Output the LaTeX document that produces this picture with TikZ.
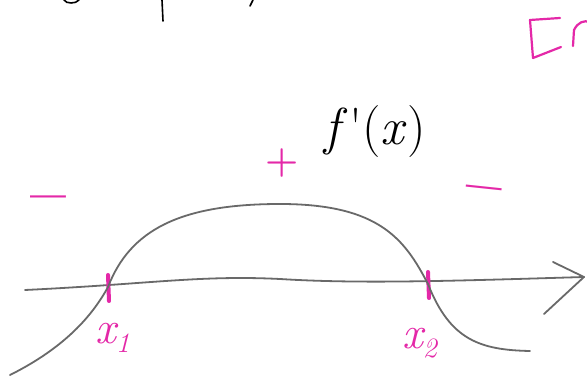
\documentclass[tikz,border=0pt]{standalone}
\usepackage{tikz}
\usetikzlibrary{positioning,calc}

\definecolor{marker}{RGB}{228,40,168}
\definecolor{pencil}{RGB}{105,105,105}
\newcommand{\rootsub}[1]{\raisebox{-9pt}{\fontsize{28}{28}\selectfont #1}}

\begin{document}
\begin{tikzpicture}[
  x=1pt, y=-1pt,
  stroke/.style={draw=pencil, line width=1.8pt, line cap=round, line join=round},
  tickmark/.style={draw=marker, line width=4pt, line cap=round},
  sign/.style={text=marker, inner sep=0pt, font=\fontsize{64}{64}\selectfont\bfseries},
  rootlabel/.style={text=marker, inner sep=0pt, font=\fontsize{46}{46}\selectfont\itshape},
  scribble/.style={draw=black, line width=1.6pt, line cap=round}
]
  \useasboundingbox (0,0) rectangle (587,379);
  \fill[white] (0,0) rectangle (587,379);

  % axis
  \coordinate (axisstart) at (25,290);
  \coordinate (axisend) at (584,277);
  \coordinate (tipup) at (553,262);
  \coordinate (tipdown) at (544,314);
  \draw[stroke] (axisstart) .. controls (150,284) and (200,275) .. (280,279)
    .. controls (360,284) and (450,281) .. (axisend);
  \draw[stroke] (tipup) -- (axisend) -- (tipdown);

  % roots
  \coordinate (xone) at (108,287);
  \coordinate (xtwo) at (428,284);
  \draw[tickmark] ($(xone)+(0,-12)$) -- ($(xone)+(1,14)$);
  \draw[tickmark] ($(xtwo)+(0,-12)$) -- ($(xtwo)+(1,14)$);

  % f'(x)
  \coordinate (curvestart) at (10,375);
  \coordinate (peak) at (280,204);
  \coordinate (curveend) at (530,351);
  \draw[stroke] (curvestart) .. controls (60,350) and (90,320) .. (xone)
    .. controls (130,230) and (180,204) .. (peak)
    .. controls (380,204) and (405,240) .. (xtwo)
    .. controls (450,340) and (480,350) .. (curveend);

  \node[rootlabel, below right=36pt and -13pt of xone] (xonelbl) {x\rootsub{1}};
  \node[rootlabel, below right=44pt and -26pt of xtwo] (xtwolbl) {x\rootsub{2}};

  \node[inner sep=0pt, font=\fontsize{52}{52}\selectfont] (fprime) at (375,132)
    {\textit{f}\kern2pt\textquotesingle(\textit{x})};

  \node[sign] (minusleft) at (49,205) {--};
  \node[sign, font=\fontsize{38}{38}\selectfont\bfseries] (plus) at (282,163) {+};
  \node[sign, rotate=-6] (minusright) at (483,196) {--};

  % cut-off scribbles at the top
  \draw[scribble] (162,0) -- (163,21);
  \draw[scribble] (64,0) .. controls (66,4) and (76,4) .. (79,0);
  \draw[scribble] (250,6) -- (253,0);
  \draw[draw=marker, line width=2.2pt, line cap=round, line join=round]
    (560,18) -- (530,20) -- (533,58) -- (561,47);
  \draw[draw=marker, line width=2.2pt, line cap=round, line join=round]
    (573,46) -- (574,30) .. controls (578,22) and (584,20) .. (590,22);
\end{tikzpicture}
\end{document}
